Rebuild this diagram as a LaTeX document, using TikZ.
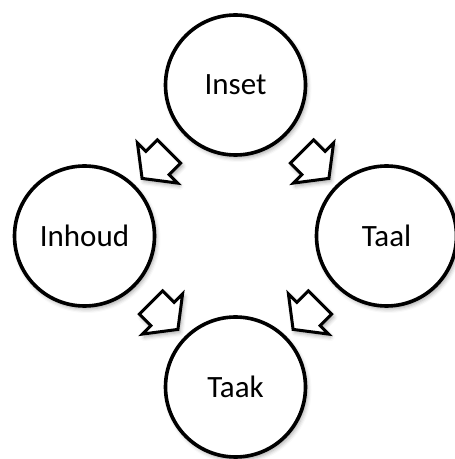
\documentclass[tikz,border=0pt]{standalone}
\usepackage{fontspec}
\setmainfont{Carlito}
\usetikzlibrary{shapes.arrows,shadows.blur}
\begin{document}
\begin{tikzpicture}[x=1pt,y=1pt,
  softshadow/.style={blur shadow={shadow xshift=2pt, shadow yshift=-3pt,
      shadow blur radius=4pt, shadow opacity=35}},
  topic/.style={circle, draw=black, line width=3.6pt, fill=white,
      minimum size=140pt, inner sep=0pt, font=\fontsize{31}{36}\selectfont,
      softshadow},
  blockarrow/.style={single arrow, draw=black, line width=3pt, fill=white,
      minimum height=38pt, inner xsep=0pt, inner ysep=15pt,
      single arrow head extend=12pt, single arrow tip angle=105,
      sloped, allow upside down, softshadow}]
  \useasboundingbox (0,0) rectangle (455,459);

  % the four topics
  \node[topic] (inset)  at (235.5,374) {Inset};
  \node[topic] (inhoud) at (84.5,223)  {Inhoud};
  \node[topic] (taal)   at (386.5,223) {Taal};
  \node[topic] (taak)   at (235.5,72)  {Taak};

  % hollow block arrows halfway between the circles
  \path (inset)  -- node[blockarrow] {} (inhoud);
  \path (inset)  -- node[blockarrow] {} (taal);
  \path (inhoud) -- node[blockarrow] {} (taak);
  \path (taal)   -- node[blockarrow] {} (taak);
\end{tikzpicture}
\end{document}
